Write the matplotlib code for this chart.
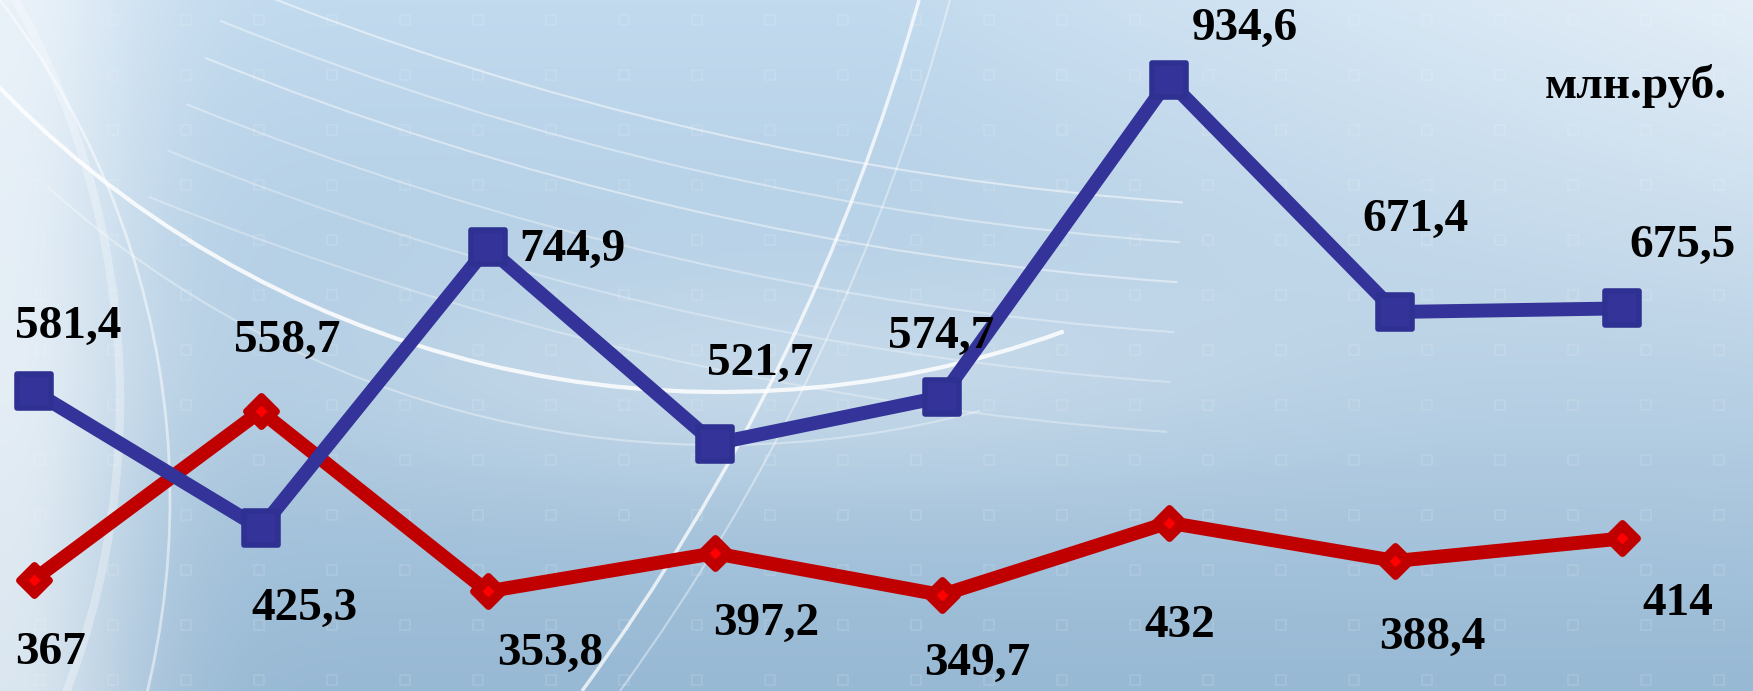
import numpy as np
import matplotlib.pyplot as plt
from matplotlib.patches import Arc, PathPatch
from matplotlib.path import Path
from matplotlib.markers import MarkerStyle
from matplotlib.colors import to_rgb

# data
periods = np.arange(8)
blue_vals = [581.4, 425.3, 744.9, 521.7, 574.7, 934.6, 671.4, 675.5]
red_vals = [367, 558.7, 353.8, 397.2, 349.7, 432, 388.4, 414]
blue_labels = ['581,4', '425,3', '744,9', '521,7', '574,7', '934,6', '671,4', '675,5']
red_labels = ['367', '558,7', '353,8', '397,2', '349,7', '432', '388,4', '414']
unit = 'млн.руб.'

# label offsets from the point, pixels (right, up)
blue_off = [(35, 64), (44, -80), (85, -3), (46, 80), (0, 60), (76, 52), (20, 92), (60, 62)]
red_off = [(17, -73), (27, 70), (63, -63), (52, -71), (36, -69), (11, -103), (37, -77), (55, -66)]

W, H = 1753, 691
fig = plt.figure(figsize=(W / 100, H / 100), dpi=100)

# background: soft blue gradient with white swooshes
bg = fig.add_axes([0, 0, 1, 1])
bg.set_xlim(0, W)
bg.set_ylim(H, 0)
bg.axis('off')
ny, nx = 80, 200
yy, xx = np.mgrid[0:1:ny * 1j, 0:1:nx * 1j]
top = np.array(to_rgb('#c2daee'))
bot = np.array(to_rgb('#98b9d4'))
img = top * (1 - yy[..., None]) + bot * yy[..., None]
light = 0.65 * np.exp(-(xx / 0.08) ** 2) \
    + 0.55 * np.clip((xx - 0.5) / 0.5, 0, 1) * (1 - yy) ** 1.5 \
    + 0.3 * np.exp(-((yy - 0.55) / 0.18) ** 2) * np.exp(-((xx - 0.45) / 0.3) ** 2)
light = np.clip(light, 0, 0.9)
img = img + (1 - img) * light[..., None]
bg.imshow(img, extent=[0, W, H, 0], aspect='auto', interpolation='bilinear', zorder=0)

# faint square pattern
gx, gy = np.meshgrid(np.arange(40, W, 73), np.arange(20, H, 55))
bg.scatter(gx.ravel(), gy.ravel(), marker='s', s=45, facecolor='none',
           edgecolor='white', lw=1.2, alpha=0.13, zorder=1)

# big bowl swoosh
bg.add_patch(Arc((720, -613), 2010, 2010, theta1=70, theta2=137,
                 color='white', lw=3, alpha=0.85, zorder=1))
bg.add_patch(Arc((720, -560), 2010, 2010, theta1=75, theta2=132,
                 color='white', lw=1.5, alpha=0.35, zorder=1))
# fine fan lines through the upper middle
for r, a in [(3110, 0.5), (3150, 0.4), (3190, 0.45), (3240, 0.35), (3290, 0.3), (3340, 0.3)]:
    bg.add_patch(Arc((1400, -2900), 2 * r, 2 * r, theta1=94, theta2=112,
                     color='white', lw=1.5, alpha=a, zorder=1))
# slanted light strokes from the top
for (x0, x2, ctrl), a, w in [((919, 582, (813, 376)), 0.75, 2.5),
                             ((950, 620, (846, 380)), 0.4, 1.5)]:
    p = Path([(x0, 0), ctrl, (x2, H)], [Path.MOVETO, Path.CURVE3, Path.CURVE3])
    bg.add_patch(PathPatch(p, facecolor='none', edgecolor='white', lw=w, alpha=a, zorder=1))
# left white band
bg.add_patch(Arc((-700, 400), 2 * 820, 2 * 820, theta1=-35, theta2=35,
                 color='white', lw=6, alpha=0.3, zorder=1))
bg.add_patch(Arc((-650, 500), 2 * 820, 2 * 820, theta1=-40, theta2=30,
                 color='white', lw=2, alpha=0.5, zorder=1))

# chart
ax = fig.add_axes([0, 0, 1, 1])
ax.patch.set_alpha(0)
ax.set_xlim(-0.148, 7.575)
ax.set_ylim(240.6, 1026)
ax.axis('off')

blue = '#333399'
red = '#c00000'
ax.plot(periods, red_vals, color=red, lw=10, solid_joinstyle='round',
        marker=MarkerStyle('D', joinstyle='round'), ms=15, mew=5, mfc=red, mec=red, zorder=2)
ax.plot(periods, red_vals, ls='none', marker='D', ms=5, color='#ff0000', zorder=3)
ax.plot(periods, blue_vals, color=blue, lw=10, solid_joinstyle='round',
        marker=MarkerStyle('s', joinstyle='round'), ms=25, mew=4, mfc=blue, mec='#2e3192', zorder=4)

font = dict(family='Liberation Serif', weight='bold', size=34, color='black')
for i, (v, t, o) in enumerate(zip(blue_vals, blue_labels, blue_off)):
    ax.annotate(t, (periods[i], v), xytext=o, textcoords='offset pixels',
                ha='center', va='center', zorder=5, **font)
for i, (v, t, o) in enumerate(zip(red_vals, red_labels, red_off)):
    ax.annotate(t, (periods[i], v), xytext=o, textcoords='offset pixels',
                ha='center', va='center', zorder=5, **font)

fig.text(1636 / W, 1 - 98 / H, unit, ha='center', va='baseline',
         family='Liberation Serif', weight='bold', size=34)

plt.savefig('out.png', dpi=100)
